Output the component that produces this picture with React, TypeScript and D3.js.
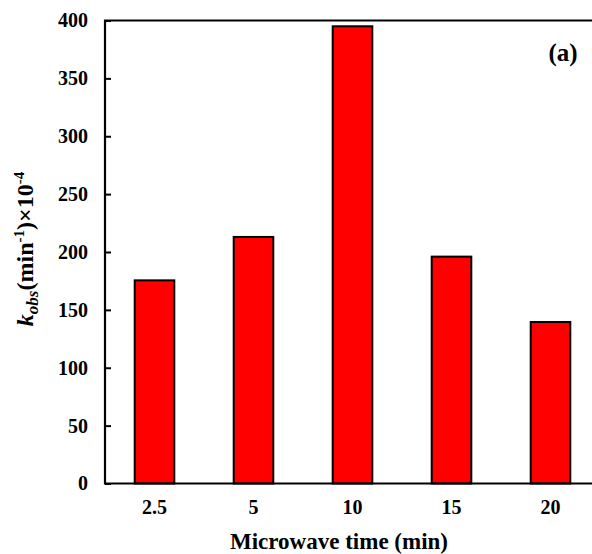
import * as d3 from "d3";
import React, { useRef, useEffect } from "react";

const categories = ["2.5", "5", "10", "15", "20"];
const kobsValues = [175.5, 213, 395, 196, 139.5];
const yTicks = [0, 50, 100, 150, 200, 250, 300, 350, 400];

const width = 592;
const height = 554;
const margin = { top: 20.5, bottom: 70.5, left: 105, right: -8 };
const font = "'Liberation Serif', 'Times New Roman', serif";

function App() {
  const ref = useRef<SVGSVGElement>(null);

  useEffect(() => {
    const svg = d3.select(ref.current);
    svg.selectAll("*").remove();

    const innerWidth = width - margin.left - margin.right;
    const innerHeight = height - margin.top - margin.bottom;

    const xScale = d3
      .scaleBand()
      .domain(categories)
      .range([0, innerWidth])
      .paddingInner(0.6)
      .paddingOuter(0.3);

    const yScale = d3.scaleLinear().domain([0, 400]).range([innerHeight, 0]);

    const chart = svg
      .append("g")
      .attr("transform", `translate(${margin.left}, ${margin.top})`);

    chart
      .selectAll(".bar")
      .data(kobsValues)
      .join("rect")
      .classed("bar", true)
      .attr("x", (d, i) => xScale(categories[i])!)
      .attr("y", (d) => yScale(d))
      .attr("width", xScale.bandwidth())
      .attr("height", (d) => innerHeight - yScale(d))
      .attr("fill", "#ff0000")
      .attr("stroke", "#000")
      .attr("stroke-width", 2);

    // frame: left, top and bottom lines
    chart
      .append("path")
      .attr("d", `M${innerWidth},0H0V${innerHeight}H${innerWidth}`)
      .attr("fill", "none")
      .attr("stroke", "#000")
      .attr("stroke-width", 2.2);

    const yAxis = d3
      .axisLeft(yScale)
      .tickValues(yTicks)
      .tickSize(-6)
      .tickPadding(17)
      .tickFormat(d3.format("d"));

    const yG = chart.append("g").call(yAxis);
    yG.select(".domain").remove();
    yG.selectAll("line").attr("stroke-width", 2);
    yG.selectAll("text")
      .style("font-family", font)
      .style("font-weight", "bold")
      .style("font-size", "20px")
      .attr("fill", "#000");

    const xAxis = d3.axisBottom(xScale).tickSize(0).tickPadding(16);
    const xG = chart
      .append("g")
      .attr("transform", `translate(0,${innerHeight})`)
      .call(xAxis);
    xG.select(".domain").remove();
    xG.selectAll("text")
      .style("font-family", font)
      .style("font-weight", "bold")
      .style("font-size", "20px")
      .attr("fill", "#000");

    svg
      .append("text")
      .attr("x", 339)
      .attr("y", 549)
      .attr("text-anchor", "middle")
      .style("font-family", font)
      .style("font-weight", "bold")
      .style("font-size", "23px")
      .text("Microwave time (min)");

    svg
      .append("text")
      .attr("x", 563)
      .attr("y", 61)
      .attr("text-anchor", "middle")
      .style("font-family", font)
      .style("font-weight", "bold")
      .style("font-size", "25px")
      .text("(a)");

    const yLabel = svg
      .append("text")
      .attr("transform", "translate(33, 249) rotate(-90)")
      .attr("text-anchor", "middle")
      .style("font-family", font)
      .style("font-weight", "bold")
      .style("font-size", "24px");
    yLabel.append("tspan").attr("font-style", "italic").text("k");
    yLabel
      .append("tspan")
      .attr("font-style", "italic")
      .attr("font-size", 17)
      .attr("dy", 5)
      .text("obs");
    yLabel.append("tspan").attr("dy", -5).text("(min");
    yLabel
      .append("tspan")
      .attr("font-size", 15)
      .attr("dy", -9)
      .text("-1");
    yLabel.append("tspan").attr("dy", 9).text(")×10");
    yLabel
      .append("tspan")
      .attr("font-size", 15)
      .attr("dy", -9)
      .text("-4");
  }, []);

  return (
    <svg
      ref={ref}
      width={width}
      height={height}
      style={{ position: "absolute", left: 0, top: 0, background: "#fff" }}
    ></svg>
  );
}

export default App;
